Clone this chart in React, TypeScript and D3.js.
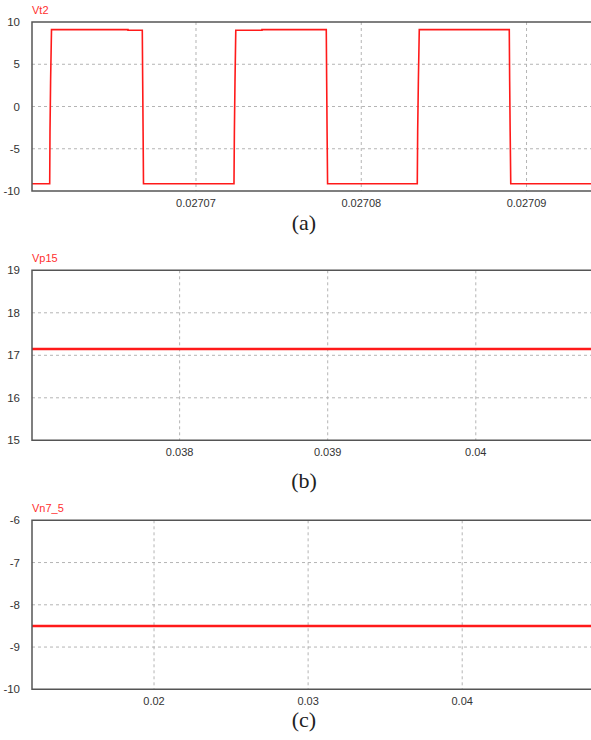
import React from 'react'
import * as d3 from 'd3'

// (a) Vt2 square wave
const vt2Time = [
  0.027060078, 0.027061149, 0.027061167, 0.027061203, 0.027061258, 0.027065886,
  0.027065886, 0.027066751, 0.027066775, 0.0270668, 0.027066824, 0.027072299,
  0.027072323, 0.02707236, 0.027072408, 0.027073993, 0.027073993, 0.027077883,
  0.027077907, 0.027077932, 0.027077962, 0.027083389, 0.027083413, 0.027083455,
  0.02708351, 0.027088955, 0.027088979, 0.027089009, 0.027089045, 0.0270939,
]
const vt2Value = [
  -9.15, -9.15, -3.0, 3.0, 9.1, 9.1,
  9.02, 9.02, 3.0, -3.0, -9.15, -9.15,
  -3.0, 3.0, 9.03, 9.03, 9.1, 9.1,
  3.0, -3.0, -9.15, -9.15, -3.0, 3.0,
  9.1, 9.1, 3.0, -3.0, -9.15, -9.15,
]
const vt2XTicks = [0.02707, 0.02708, 0.02709]
const vt2XLabels = ['0.02707', '0.02708', '0.02709']
const vt2YTicks = [-10, -5, 0, 5, 10]

// (b) Vp15
const vp15Time = [0.037003, 0.038, 0.039, 0.04, 0.040778]
const vp15Value = [17.15, 17.15, 17.15, 17.15, 17.15]
const vp15XTicks = [0.038, 0.039, 0.04]
const vp15XLabels = ['0.038', '0.039', '0.04']
const vp15YTicks = [15, 16, 17, 18, 19]

// (c) Vn7_5
const vn75Time = [0.01208, 0.02, 0.03, 0.04, 0.04836]
const vn75Value = [-8.5, -8.5, -8.5, -8.5, -8.5]
const vn75XTicks = [0.02, 0.03, 0.04]
const vn75XLabels = ['0.02', '0.03', '0.04']
const vn75YTicks = [-10, -9, -8, -7, -6]

const W = 591
const H = 740
const LEFT = 32
const RIGHT = 591
const SANS = '"Liberation Sans", Arial, sans-serif'

type PanelProps = {
  title: string
  caption: string
  top: number
  bottom: number
  captionY: number
  xDomain: [number, number]
  yDomain: [number, number]
  xTicks: number[]
  xLabels: string[]
  yTicks: number[]
  times: number[]
  values: number[]
  lineWidth: number
}

const Panel = (p: PanelProps) => {
  const x = d3.scaleLinear().domain(p.xDomain).range([LEFT, RIGHT])
  const y = d3.scaleLinear().domain(p.yDomain).range([p.bottom, p.top])
  const pts = p.times.map((t, i) => [t, p.values[i]] as [number, number])
  const line = d3
    .line<[number, number]>()
    .x((d) => x(d[0]))
    .y((d) => y(d[1]))

  const [y0, y1] = p.yDomain
  return (
    <g>
      {/* grid */}
      {p.yTicks
        .filter((t) => t !== y0 && t !== y1)
        .map((t) => (
          <line key={'gy' + t} x1={LEFT} x2={RIGHT} y1={y(t)} y2={y(t)}
            stroke='#b4b4b4' strokeWidth={1} strokeDasharray='3,3' />
        ))}
      {p.xTicks.map((t) => (
        <line key={'gx' + t} x1={x(t)} x2={x(t)} y1={p.top} y2={p.bottom}
          stroke='#b4b4b4' strokeWidth={1} strokeDasharray='3,3' />
      ))}
      {/* signal */}
      <path d={line(pts) || ''} fill='none' stroke='#ff1a1a' strokeWidth={p.lineWidth}
        strokeLinejoin='miter' />
      {/* frame: left, top, bottom */}
      <path d={`M${RIGHT},${p.top}H${LEFT}V${p.bottom}H${RIGHT}`} fill='none'
        stroke='#555' strokeWidth={1.5} />
      {/* y labels */}
      {p.yTicks.map((t) => (
        <text key={'ly' + t} x={LEFT - 12} y={y(t)} dy='0.35em' textAnchor='end'
          fontFamily={SANS} fontSize={11.5} fill='#333'>{t}</text>
      ))}
      {/* x labels */}
      {p.xTicks.map((t, i) => (
        <text key={'lx' + t} x={x(t)} y={p.bottom + 16} textAnchor='middle'
          fontFamily={SANS} fontSize={11} fill='#333'>{p.xLabels[i]}</text>
      ))}
      <text x={LEFT} y={p.top - 8.5} fontFamily={SANS} fontSize={11} fill='#ff3030'>
        {p.title}
      </text>
      <text x={304} y={p.captionY} textAnchor='middle'
        fontFamily='"Liberation Serif", "DejaVu Serif", serif' fontSize={22} fill='#222'>
        {p.caption}
      </text>
    </g>
  )
}

export default function App() {
  return (
    <svg width={W} height={H} style={{ position: 'absolute', left: 0, top: 0, background: '#fff' }}>
      <Panel title='Vt2' caption='(a)' top={22} bottom={191} captionY={230}
        xDomain={[0.027060078, 0.0270939]} yDomain={[-10, 10]}
        xTicks={vt2XTicks} xLabels={vt2XLabels} yTicks={vt2YTicks}
        times={vt2Time} values={vt2Value} lineWidth={1.6} />
      <Panel title='Vp15' caption='(b)' top={270.3} bottom={440.3} captionY={488}
        xDomain={[0.037003, 0.040778]} yDomain={[15, 19]}
        xTicks={vp15XTicks} xLabels={vp15XLabels} yTicks={vp15YTicks}
        times={vp15Time} values={vp15Value} lineWidth={2.5} />
      <Panel title='Vn7_5' caption='(c)' top={520.3} bottom={689.3} captionY={727}
        xDomain={[0.01208, 0.04836]} yDomain={[-10, -6]}
        xTicks={vn75XTicks} xLabels={vn75XLabels} yTicks={vn75YTicks}
        times={vn75Time} values={vn75Value} lineWidth={2.5} />
    </svg>
  )
}
